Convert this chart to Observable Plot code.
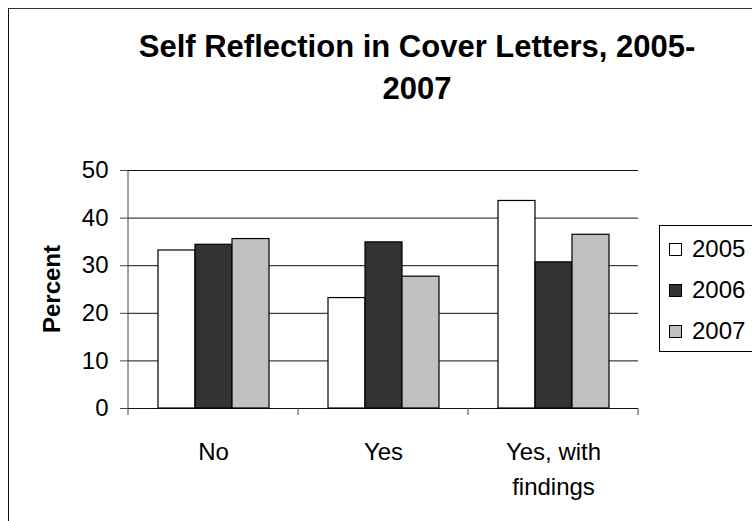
<!DOCTYPE html>
<html>
<head>
<meta charset="utf-8">
<script src="https://cdn.jsdelivr.net/npm/d3@7"></script>
<script src="https://cdn.jsdelivr.net/npm/@observablehq/plot@0.6"></script>
<style>
  html, body { margin: 0; padding: 0; background: #fff; }
  #chart {
    position: relative; width: 752px; height: 521px; overflow: hidden;
    font-family: "Liberation Sans", Arial, sans-serif; color: #000;
  }
  #chart svg { position: absolute; left: 0; top: 0; }
  .border {
    position: absolute; left: 8px; top: 8px; width: 800px; height: 560px;
    border-left: 1px solid #111; border-top: 1px solid #333;
  }
  .title {
    position: absolute; left: 117px; top: 26px; width: 600px;
    text-align: center; font-weight: bold; font-size: 31px; line-height: 42px;
  }
  .ylabel {
    position: absolute; left: 52px; top: 289px; white-space: nowrap;
    font-weight: bold; font-size: 24px;
    transform: translate(-50%, -50%) rotate(-90deg);
  }
  .legend {
    position: absolute; left: 659px; top: 225px; width: 130px; height: 127px;
    border: 1px solid #000; box-sizing: border-box;
  }
  .legend .item {
    position: absolute; left: 9px; height: 28px; display: flex; align-items: center;
    font-size: 24px; white-space: nowrap;
  }
  .legend .swatch {
    width: 13px; height: 13px; box-sizing: border-box; border: 1px solid #000;
    margin-right: 10px;
  }
</style>
</head>
<body>
<div id="chart">
  <div class="border"></div>
</div>
<script>
// Response categories, survey years and percentages per year
const categories = ["No", "Yes", "Yes, with findings"];
const categoryLabels = ["No", "Yes", "Yes, with\nfindings"];
const years = ["2005", "2006", "2007"];
const values2005 = [33.2, 23.2, 43.6];
const values2006 = [34.4, 34.9, 30.7];
const values2007 = [35.6, 27.7, 36.5];
const yTicks = [0, 10, 20, 30, 40, 50];
const yearColors = ["#ffffff", "#333333", "#c0c0c0"];
const titleLines = ["Self Reflection in Cover Letters, 2005-", "2007"];
const yTitle = "Percent";

const series = [values2005, values2006, values2007];
const rows = [];
categories.forEach((c, i) => {
  years.forEach((yr, j) => rows.push({category: c, year: yr, value: series[j][i]}));
});
const labelRows = categories.map((c, i) => ({category: c, label: categoryLabels[i]}));

const plot = Plot.plot({
  width: 752,
  height: 521,
  marginLeft: 127,
  marginRight: 114,
  marginTop: 170,
  marginBottom: 113,
  style: {fontFamily: "Liberation Sans, Arial, sans-serif", fontSize: "24px", background: "transparent", color: "#000", overflow: "visible"},
  fx: {domain: categories, padding: 0, axis: null},
  x: {domain: years, paddingInner: 0, paddingOuter: 0.75, axis: null},
  y: {domain: [0, 50], axis: null},
  color: {domain: years, range: yearColors},
  marks: [
    Plot.ruleY(yTicks, {stroke: "#111", strokeWidth: 1}),
    Plot.barY(rows, {fx: "category", x: "year", y: "value", fill: "year", stroke: "#000", strokeWidth: 1.2}),
    Plot.axisY({ticks: yTicks, tickSize: 8, tickPadding: 12, label: null, stroke: "#444", fontSize: 24}),
    Plot.text(labelRows, {fx: "category", text: "label", frameAnchor: "bottom", lineAnchor: "top", dy: 27, lineHeight: 1.45, fontSize: 24})
  ]
});

// Category axis: left spine and tick marks on the category boundaries
const svg = d3.select(plot);
const fx = plot.scale("fx");
const y = plot.scale("y");
const y0 = y.apply(0);
const yTop = y.apply(d3.max(yTicks));
const left = fx.apply(categories[0]);
const bounds = categories.map(c => fx.apply(c)).concat(fx.apply(categories[categories.length - 1]) + fx.bandwidth);
const axisG = svg.append("g").attr("stroke", "#444").attr("stroke-width", 1);
axisG.append("line").attr("x1", left).attr("x2", left).attr("y1", yTop).attr("y2", y0);
bounds.forEach(b => {
  axisG.append("line").attr("x1", b).attr("x2", b).attr("y1", y0).attr("y2", y0 + 7);
});

const chart = document.getElementById("chart");
chart.appendChild(plot);

const title = document.createElement("div");
title.className = "title";
title.innerHTML = titleLines.join("<br>");
chart.appendChild(title);

const ylabel = document.createElement("div");
ylabel.className = "ylabel";
ylabel.textContent = yTitle;
chart.appendChild(ylabel);

const legend = document.createElement("div");
legend.className = "legend";
years.forEach((yr, i) => {
  const item = document.createElement("div");
  item.className = "item";
  item.style.top = (9 + i * 41) + "px";
  const sw = document.createElement("span");
  sw.className = "swatch";
  sw.style.background = yearColors[i];
  item.appendChild(sw);
  item.appendChild(document.createTextNode(yr));
  legend.appendChild(item);
});
chart.appendChild(legend);
</script>
</body>
</html>
